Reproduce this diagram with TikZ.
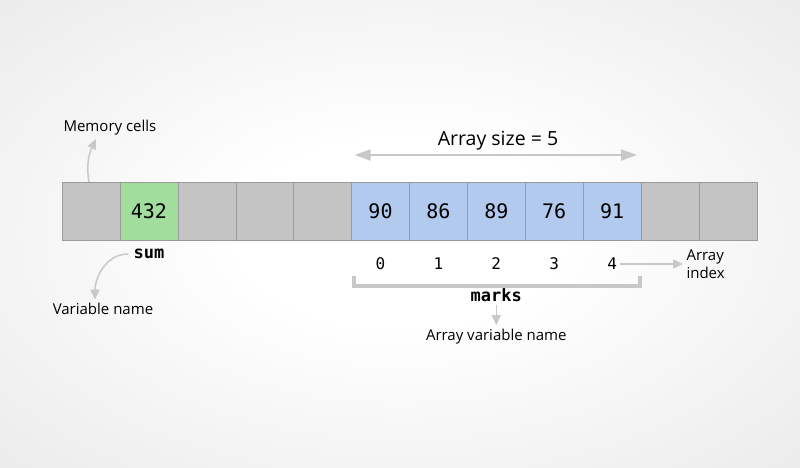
\documentclass[tikz,border=0pt]{standalone}
\usepackage{fontspec}
\setmainfont{Open Sans}
\setmonofont{DejaVu Sans Mono}
\usepackage{xcolor}
\usetikzlibrary{positioning,arrows.meta}

\definecolor{cellgray}{HTML}{C4C4C4}
\definecolor{cellgreen}{HTML}{A1DD9D}
\definecolor{cellblue}{HTML}{B3CAEF}
\definecolor{cellline}{HTML}{9A9A9A}
\definecolor{arrowgray}{HTML}{C8C8C8}

\pgfdeclareradialshading{bgglow}{\pgfpoint{0bp}{0bp}}{color(0bp)=(white); color(10bp)=(white); color(50bp)=(black!12); color(75bp)=(black!15)}

\begin{document}
\begin{tikzpicture}[x=1pt, y=-1pt, node distance=0pt,
    cell/.style={draw=cellline, fill=cellgray, minimum width=57.9pt, minimum height=58pt, inner sep=0pt, outer sep=0pt, font=\ttfamily\fontsize{20}{24}\selectfont},
    note/.style={font=\fontsize{15}{18}\selectfont},
    idx/.style={font=\ttfamily\fontsize{16}{18}\selectfont},
    varname/.style={font=\ttfamily\bfseries\fontsize{17}{20}\selectfont},
    arr/.style={draw=arrowgray, line width=1.5pt, -{Triangle[length=10pt, width=9pt]}},
    bigarr/.style={draw=arrowgray, line width=2pt, {Triangle[length=16pt, width=11pt]}-{Triangle[length=16pt, width=11pt]}},
    brace/.style={draw=arrowgray, line width=4pt}]

    % background
    \shade[shading=bgglow] (0,0) rectangle (800,467);
    \useasboundingbox (0,0) rectangle (800,467);

    % memory cells
    \node[cell] (c0) at (91,211) {};
    \node[cell, fill=cellgreen, right=of c0] (c1) {432};
    \node[cell, right=of c1] (c2) {};
    \node[cell, right=of c2] (c3) {};
    \node[cell, right=of c3] (c4) {};
    \node[cell, fill=cellblue, right=of c4] (c5) {90};
    \node[cell, fill=cellblue, right=of c5] (c6) {86};
    \node[cell, fill=cellblue, right=of c6] (c7) {89};
    \node[cell, fill=cellblue, right=of c7] (c8) {76};
    \node[cell, fill=cellblue, right=of c8] (c9) {91};
    \node[cell, right=of c9] (c10) {};
    \node[cell, right=of c10] (c11) {};

    % labels
    \node[note, anchor=west] (mem) at (60,128) {Memory cells};
    \node[font=\fontsize{19.5}{22}\selectfont] (size) at (498,141) {Array size = 5};
    \node[varname, below=14pt of c1.south, anchor=center] (sum) {sum};
    \node[note] (var) at (103,309) {Variable name};

    \node[idx, below=24pt of c5.south, anchor=center] (i0) {0};
    \node[idx, below=24pt of c6.south, anchor=center] (i1) {1};
    \node[idx, below=24pt of c7.south, anchor=center] (i2) {2};
    \node[idx, below=24pt of c8.south, anchor=center] (i3) {3};
    \node[idx, below=24pt of c9.south, anchor=center] (i4) {4};
    \node[note, align=left, anchor=west] (aidx) at (683,264) {Array\\index};

    \node[varname, below=55pt of c7.south, anchor=center] (marks) {marks};
    \node[note, below=20pt of marks] (avn) {Array variable name};

    % connectors
    \draw[arr] ([xshift=-2pt]c0.north) to[out=100, in=-115] ([xshift=-14pt]mem.south);
    \draw[bigarr] ([xshift=3pt, yshift=27pt]c5.north west) -- ([xshift=-4pt, yshift=27pt]c9.north east);
    \draw[arr] ([xshift=-2pt]sum.west) to[out=180, in=90] ([xshift=-8pt]var.north);
    \draw[arr] (i4.east) -- (aidx.west);
    \draw[brace] ([xshift=2pt, yshift=-36pt]c5.south west) |- ([xshift=-1pt, yshift=-46pt]c9.south east) -- ([xshift=-1pt, yshift=-36pt]c9.south east);
    \draw[arr] (marks.south) -- (avn.north);
\end{tikzpicture}
\end{document}
